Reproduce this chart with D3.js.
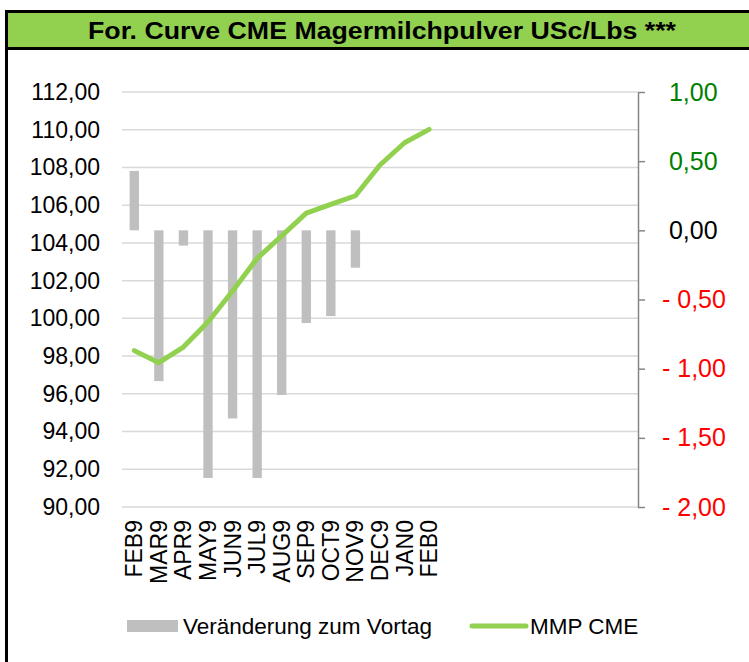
<!DOCTYPE html>
<html>
<head>
<meta charset="utf-8">
<script src="https://cdn.jsdelivr.net/npm/d3@7"></script>
<style>
  html, body { margin: 0; padding: 0; background: #fff; }
  svg { display: block; font-family: "Liberation Sans", Arial, sans-serif; }
</style>
</head>
<body>
<svg id="chart" width="749" height="662"></svg>
<script>
const title = "For. Curve CME Magermilchpulver USc/Lbs ***";
const categories = ["FEB9","MAR9","APR9","MAY9","JUN9","JUL9","AUG9","SEP9","OCT9","NOV9","DEC9","JAN0","FEB0"];
const slotCount = 21;
const changeValues = [0.43, -1.09, -0.11, -1.79, -1.36, -1.79, -1.19, -0.67, -0.62, -0.27, null, null, null];
const mmpValues = [98.29, 97.65, 98.48, 99.81, 101.45, 103.18, 104.37, 105.58, 106.04, 106.50, 108.13, 109.31, 110.02];
const leftTicks = [90, 92, 94, 96, 98, 100, 102, 104, 106, 108, 110, 112];
const rightTicks = [-2, -1.5, -1, -0.5, 0, 0.5, 1];
const seriesNames = ["Veränderung zum Vortag", "MMP CME"];

const svg = d3.select("#chart");
const plot = { left: 122, right: 638, top: 92, bottom: 507 };

// Frame + title bar
svg.append("rect").attr("x", 6.5).attr("y", 11.5).attr("width", 800).attr("height", 800)
  .attr("fill", "#fff").attr("stroke", "#000").attr("stroke-width", 3);
svg.append("rect").attr("x", 6.5).attr("y", 11.5).attr("width", 800).attr("height", 37)
  .attr("fill", "#92D050").attr("stroke", "#000").attr("stroke-width", 3);
svg.append("text").attr("x", 382).attr("y", 38.5).attr("text-anchor", "middle")
  .attr("font-size", 23.5).attr("font-weight", "bold").attr("fill", "#000")
  .attr("textLength", 588).attr("lengthAdjust", "spacingAndGlyphs")
  .text(title);

const x = d3.scaleBand().domain(d3.range(slotCount)).range([plot.left, plot.right])
  .paddingInner(0.62).paddingOuter(0.31);
const yL = d3.scaleLinear().domain([90, 112]).range([plot.bottom, plot.top]);
const yR = d3.scaleLinear().domain([-2, 1]).range([plot.bottom, plot.top]);
const cx = i => x(i) + x.bandwidth() / 2;

// gridlines
svg.append("g").selectAll("line").data(leftTicks).join("line")
  .attr("x1", plot.left).attr("x2", plot.right)
  .attr("y1", d => yL(d)).attr("y2", d => yL(d))
  .attr("stroke", "#D9D9D9").attr("stroke-width", 1.5);

// left axis labels
const fmt = d3.formatLocale({ decimal: ",", thousands: ".", grouping: [3], currency: ["", "€"] }).format(".2f");
const gL = svg.append("g").attr("transform", `translate(${plot.left},0)`)
  .call(d3.axisLeft(yL).tickValues(leftTicks).tickSize(0).tickPadding(22).tickFormat(fmt));
gL.select(".domain").remove();
gL.selectAll("text").attr("font-size", 23).attr("fill", "#000").attr("font-family", "Liberation Sans, Arial, sans-serif");

// bars
const barData = changeValues.map((v, i) => ({ i, v })).filter(d => d.v !== null && d.v !== 0);
svg.append("g").selectAll("rect").data(barData).join("rect")
  .attr("x", d => x(d.i)).attr("width", x.bandwidth())
  .attr("y", d => yR(Math.max(0, d.v)))
  .attr("height", d => Math.abs(yR(d.v) - yR(0)))
  .attr("fill", "#BFBFBF");

// line
const line = d3.line().x((d, i) => cx(i)).y(d => yL(d));
svg.append("path").datum(mmpValues).attr("d", line)
  .attr("fill", "none").attr("stroke", "#92D050").attr("stroke-width", 5)
  .attr("stroke-linejoin", "round").attr("stroke-linecap", "round");

// right axis
const rFmt = v => (v < 0 ? "- " + fmt(-v) : "\u00a0" + fmt(v));
const gR = svg.append("g").attr("transform", `translate(${plot.right},0)`)
  .call(d3.axisRight(yR).tickValues(rightTicks).tickSize(7).tickSizeOuter(0).tickPadding(17).tickFormat(rFmt));
gR.select(".domain").attr("stroke", "#868686").attr("stroke-width", 1.5);
gR.selectAll(".tick line").attr("stroke", "#868686").attr("stroke-width", 1.5);
gR.selectAll("text").attr("font-size", 25).attr("font-family", "Liberation Sans, Arial, sans-serif")
  .attr("fill", d => d > 0 ? "#008000" : (d < 0 ? "#FF0000" : "#000"));

// category axis
const gX = svg.append("g").attr("transform", `translate(0,${plot.bottom})`)
  .call(d3.axisBottom(x).tickValues(d3.range(categories.length)).tickSize(0).tickFormat(i => categories[i]));
gX.select(".domain").remove();
gX.selectAll("text").attr("font-size", 23).attr("fill", "#000").attr("font-family", "Liberation Sans, Arial, sans-serif")
  .attr("transform", "rotate(-90)").attr("text-anchor", "end")
  .attr("x", -13).attr("y", 0).attr("dy", "0.35em");

// legend
const lg = svg.append("g");
lg.append("rect").attr("x", 127).attr("y", 620).attr("width", 51).attr("height", 12).attr("fill", "#BFBFBF");
lg.append("text").attr("x", 183).attr("y", 634).attr("font-size", 22.5).attr("fill", "#000").text(seriesNames[0]);
lg.append("line").attr("x1", 472).attr("x2", 526).attr("y1", 626).attr("y2", 626)
  .attr("stroke", "#92D050").attr("stroke-width", 5).attr("stroke-linecap", "round");
lg.append("text").attr("x", 530).attr("y", 634).attr("font-size", 22.5).attr("fill", "#000").text(seriesNames[1]);
</script>
</body>
</html>
